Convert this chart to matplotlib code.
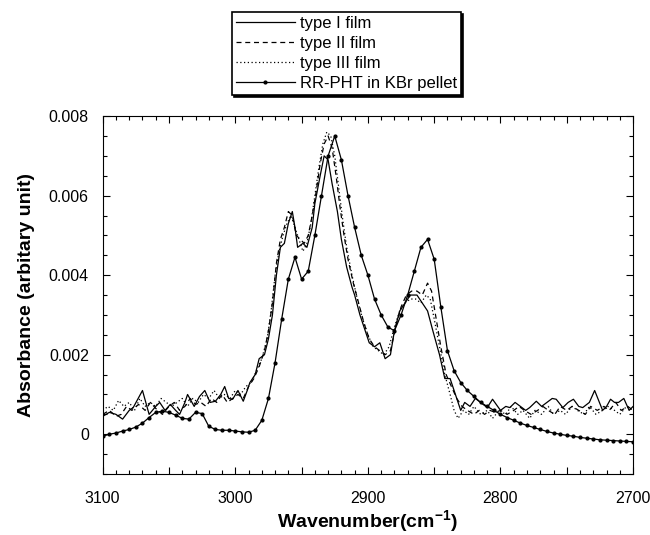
import numpy as np
import matplotlib
matplotlib.use("Agg")
import matplotlib.pyplot as plt
from matplotlib.ticker import MultipleLocator, FuncFormatter

plt.rcParams['font.family'] = ['Liberation Sans', 'DejaVu Sans']
plt.rcParams['mathtext.fontset'] = 'custom'
plt.rcParams['mathtext.bf'] = 'Liberation Sans:bold'
plt.rcParams['mathtext.rm'] = 'Liberation Sans:bold'

# type I film (solid)
wn1 = [3100, 3095, 3090, 3085, 3080, 3077, 3070, 3065, 3060, 3057, 3053, 3049, 3045, 3042,
       3038, 3036, 3031, 3027, 3023, 3019, 3015, 3011, 3008, 3005, 3002, 2998, 2994, 2991,
       2989, 2985, 2982, 2978, 2975, 2972, 2969, 2966, 2963, 2960, 2957, 2955, 2953, 2949,
       2946, 2942, 2940, 2936, 2933, 2930, 2927, 2923, 2920, 2916, 2912, 2910, 2906, 2902,
       2899, 2895, 2891, 2887, 2883, 2880, 2876, 2872, 2868, 2863, 2859, 2855, 2851, 2846,
       2842, 2838, 2834, 2830, 2827, 2823, 2819, 2815, 2810, 2806, 2800, 2796, 2793, 2789,
       2785, 2781, 2778, 2773, 2769, 2765, 2761, 2758, 2753, 2749, 2745, 2741, 2738, 2733,
       2729, 2723, 2720, 2717, 2714, 2711, 2707, 2703, 2700]
abs1 = [0.00045, 0.00055, 0.0005, 0.00038, 0.0006, 0.00067, 0.0011, 0.0005, 0.0007, 0.0008,
        0.0006, 0.00075, 0.0006, 0.0005, 0.0008, 0.001, 0.0007, 0.00095, 0.0011, 0.0008,
        0.00083, 0.001, 0.0012, 0.0009, 0.00088, 0.0011, 0.00083, 0.0011, 0.0013, 0.0015,
        0.0019, 0.002, 0.0024, 0.003, 0.004, 0.0047, 0.0048, 0.0053, 0.0056, 0.0052, 0.0047,
        0.0048, 0.0047, 0.0052, 0.0058, 0.0065, 0.0070, 0.0069, 0.0063, 0.0056, 0.0049,
        0.0042, 0.0037, 0.0035, 0.0030, 0.0026, 0.0023, 0.0022, 0.0023, 0.0019, 0.0020,
        0.0026, 0.0031, 0.0033, 0.0035, 0.0035, 0.0033, 0.0031, 0.0026, 0.0020, 0.0014,
        0.0014, 0.0010, 0.0006, 0.0008, 0.0007, 0.0009, 0.0008, 0.00067, 0.00088, 0.0006,
        0.0007, 0.00067, 0.0008, 0.0007, 0.0006, 0.00067, 0.00083, 0.0007, 0.0008, 0.0009,
        0.00088, 0.00067, 0.0008, 0.00088, 0.0007, 0.00067, 0.0008, 0.0011, 0.0006, 0.0007,
        0.00088, 0.0008, 0.0008, 0.0009, 0.0006, 0.0007]

# type II film (dashed)
wn2 = [3100, 3095, 3090, 3086, 3082, 3078, 3073, 3068, 3064, 3060, 3055, 3050, 3046, 3042,
       3038, 3034, 3030, 3026, 3022, 3018, 3014, 3010, 3006, 3002, 2998, 2994, 2990, 2986,
       2982, 2978, 2975, 2972, 2969, 2966, 2963, 2960, 2957, 2954, 2951, 2948, 2945, 2942,
       2939, 2936, 2933, 2930, 2927, 2924, 2921, 2918, 2915, 2911, 2907, 2903, 2899, 2895,
       2891, 2887, 2883, 2879, 2875, 2871, 2867, 2863, 2859, 2855, 2852, 2849, 2845, 2841,
       2837, 2833, 2829, 2825, 2820, 2816, 2812, 2808, 2804, 2800, 2795, 2790, 2786, 2782,
       2777, 2772, 2768, 2764, 2759, 2755, 2750, 2746, 2741, 2736, 2732, 2727, 2722, 2718,
       2713, 2709, 2704, 2700]
abs2 = [0.0005, 0.0006, 0.00045, 0.0005, 0.0007, 0.0006, 0.00075, 0.0006, 0.0008, 0.00065,
        0.0005, 0.0007, 0.0008, 0.0006, 0.0007, 0.0009, 0.00075, 0.0008, 0.0007, 0.0009,
        0.0008, 0.001, 0.0008, 0.0009, 0.001, 0.0009, 0.0012, 0.0014, 0.0017, 0.0021,
        0.0026, 0.0033, 0.0043, 0.0049, 0.0052, 0.0056, 0.0055, 0.0050, 0.0049, 0.0048,
        0.0050, 0.0055, 0.0061, 0.0068, 0.0073, 0.0075, 0.0072, 0.0065, 0.0057, 0.0050,
        0.0044, 0.0038, 0.0033, 0.0028, 0.0024, 0.0022, 0.0021, 0.0020, 0.0021, 0.0027,
        0.0032, 0.0035, 0.0036, 0.0036, 0.0035, 0.0038, 0.0036, 0.0030, 0.0022, 0.0015,
        0.0012, 0.0009, 0.0007, 0.0006, 0.0005, 0.0006, 0.0005, 0.0006, 0.00055, 0.0006,
        0.0005, 0.0006, 0.0007, 0.0006, 0.0005, 0.0006, 0.0007, 0.0006, 0.0005, 0.0007,
        0.0006, 0.0007, 0.0006, 0.0005, 0.0007, 0.0006, 0.0007, 0.0006, 0.0008, 0.0006,
        0.0007, 0.0006]

# type III film (dotted)
wn3 = [3100, 3096, 3092, 3088, 3084, 3080, 3076, 3072, 3068, 3064, 3060, 3056, 3052, 3048,
       3044, 3040, 3036, 3032, 3028, 3024, 3020, 3016, 3012, 3008, 3004, 3000, 2996, 2992,
       2988, 2984, 2980, 2976, 2973, 2970, 2967, 2964, 2961, 2958, 2955, 2952, 2949, 2946,
       2943, 2940, 2937, 2934, 2931, 2928, 2925, 2922, 2919, 2916, 2912, 2908, 2904, 2900,
       2896, 2892, 2888, 2884, 2880, 2876, 2872, 2868, 2864, 2860, 2856, 2853, 2850, 2846,
       2842, 2838, 2835, 2832, 2828, 2824, 2820, 2815, 2810, 2806, 2801, 2796, 2792, 2787,
       2783, 2778, 2774, 2769, 2764, 2760, 2755, 2751, 2746, 2742, 2737, 2733, 2728, 2723,
       2719, 2714, 2710, 2705, 2700]
abs3 = [0.0006, 0.0007, 0.0006, 0.00085, 0.0007, 0.0008, 0.0006, 0.0009, 0.0007, 0.0008,
        0.0007, 0.0009, 0.0008, 0.0007, 0.0008, 0.0009, 0.0007, 0.0009, 0.0008, 0.001,
        0.0009, 0.0011, 0.0009, 0.001, 0.0009, 0.0011, 0.001, 0.0012, 0.0013, 0.0016,
        0.0019, 0.0024, 0.0031, 0.004, 0.0046, 0.005, 0.0053, 0.0055, 0.0052, 0.0049,
        0.0046, 0.0048, 0.0053, 0.006, 0.0067, 0.0073, 0.0076, 0.0075, 0.0070, 0.0062,
        0.0054, 0.0047, 0.0040, 0.0034, 0.0029, 0.0025, 0.0022, 0.0021, 0.0020, 0.0022,
        0.0027, 0.0031, 0.0033, 0.0034, 0.0034, 0.0033, 0.0035, 0.0034, 0.0029, 0.0022,
        0.0015, 0.0010, 0.0006, 0.0004, 0.0006, 0.0005, 0.0007, 0.0005, 0.0006, 0.0004,
        0.0006, 0.0005, 0.0007, 0.0005, 0.0006, 0.0004, 0.0006, 0.0005, 0.0007, 0.0005,
        0.0006, 0.0005, 0.0007, 0.0006, 0.0005, 0.0007, 0.0005, 0.0006, 0.0007, 0.0006,
        0.0005, 0.0007, 0.0006]

# RR-PHT in KBr pellet (line + dots), every 5 cm-1 from 3100 down to 2700
wn4 = list(range(3100, 2695, -5))
abs4 = [-0.00005, 0.0, 0.00003, 0.00008, 0.00012, 0.00018, 0.00028, 0.00042, 0.00055, 0.00058,
        0.00055, 0.00048, 0.0004, 0.00038, 0.00055, 0.00052, 0.0002, 0.00012, 0.0001, 0.0001,
        0.00008, 0.00006, 0.00005, 0.0001, 0.00035, 0.0009, 0.0018, 0.0029, 0.0039, 0.00445,
        0.0039, 0.0041, 0.0050, 0.0060, 0.0070, 0.0075, 0.0069, 0.0060, 0.0052, 0.0045,
        0.0040, 0.0034, 0.0030, 0.0027, 0.0026, 0.0030, 0.0035, 0.0041, 0.0047, 0.0049,
        0.0044, 0.0032, 0.0021, 0.0016, 0.0013, 0.0011, 0.00095, 0.0008, 0.0007, 0.0006,
        0.0005, 0.00042, 0.00035, 0.00028, 0.00022, 0.00017, 0.00012, 0.00007, 0.00003, 0.0,
        -0.00003, -0.00005, -0.00008, -0.0001, -0.00012, -0.00014, -0.00015, -0.00016,
        -0.00017, -0.00018, -0.00019]

labels = ['type I film', 'type II film', 'type III film', 'RR-PHT in KBr pellet']

fig = plt.figure(figsize=(6.5, 5.35), dpi=100)
ax = fig.add_axes([0.158, 0.114, 0.816, 0.669])

ax.plot(wn1, abs1, color='black', lw=0.9, ls='-', label=labels[0])
ax.plot(wn2, abs2, color='black', lw=0.9, ls=(0, (4, 3)), label=labels[1])
ax.plot(wn3, abs3, color='black', lw=0.9, ls=(0, (1, 2)), label=labels[2])
ax.plot(wn4, abs4, color='black', lw=0.9, marker='o', ms=2, label=labels[3])

ax.set_xlim(3100, 2700)
ax.set_ylim(-0.001, 0.008)

ax.xaxis.set_major_locator(MultipleLocator(50))
ax.xaxis.set_minor_locator(MultipleLocator(10))
ax.xaxis.set_major_formatter(FuncFormatter(lambda v, p: f'{int(round(v))}' if round(v) % 100 == 0 else ''))
ax.yaxis.set_major_locator(MultipleLocator(0.002))
ax.yaxis.set_minor_locator(MultipleLocator(0.0005))
ax.yaxis.set_major_formatter(FuncFormatter(lambda v, p: '0' if abs(v) < 1e-9 else f'{v:.3f}'))
ax.tick_params(which='both', direction='in', top=True, right=True, labelsize=11.5)
ax.tick_params(axis='x', pad=12)
ax.tick_params(axis='y', pad=10)
ax.tick_params(which='major', length=5, width=0.8)
ax.tick_params(which='minor', length=3, width=0.8)

ax.set_xlabel(r'Wavenumber(cm$^{-1}$)', fontsize=14, fontweight='bold', labelpad=2)
ax.set_ylabel('Absorbance (arbitary unit)', fontsize=14, fontweight='bold', labelpad=10)

leg = fig.legend(loc='upper center', bbox_to_anchor=(0.533, 0.978), fontsize=12,
                 frameon=True, fancybox=False, edgecolor='black', handlelength=3.5,
                 borderpad=0.25, labelspacing=0.3, handletextpad=0.3, borderaxespad=0,
                 shadow={'color': 'black', 'alpha': 1.0, 'ox': 1.5, 'oy': -1.5})
leg.get_frame().set_linewidth(1.2)

fig.savefig('out.png', dpi=100)
